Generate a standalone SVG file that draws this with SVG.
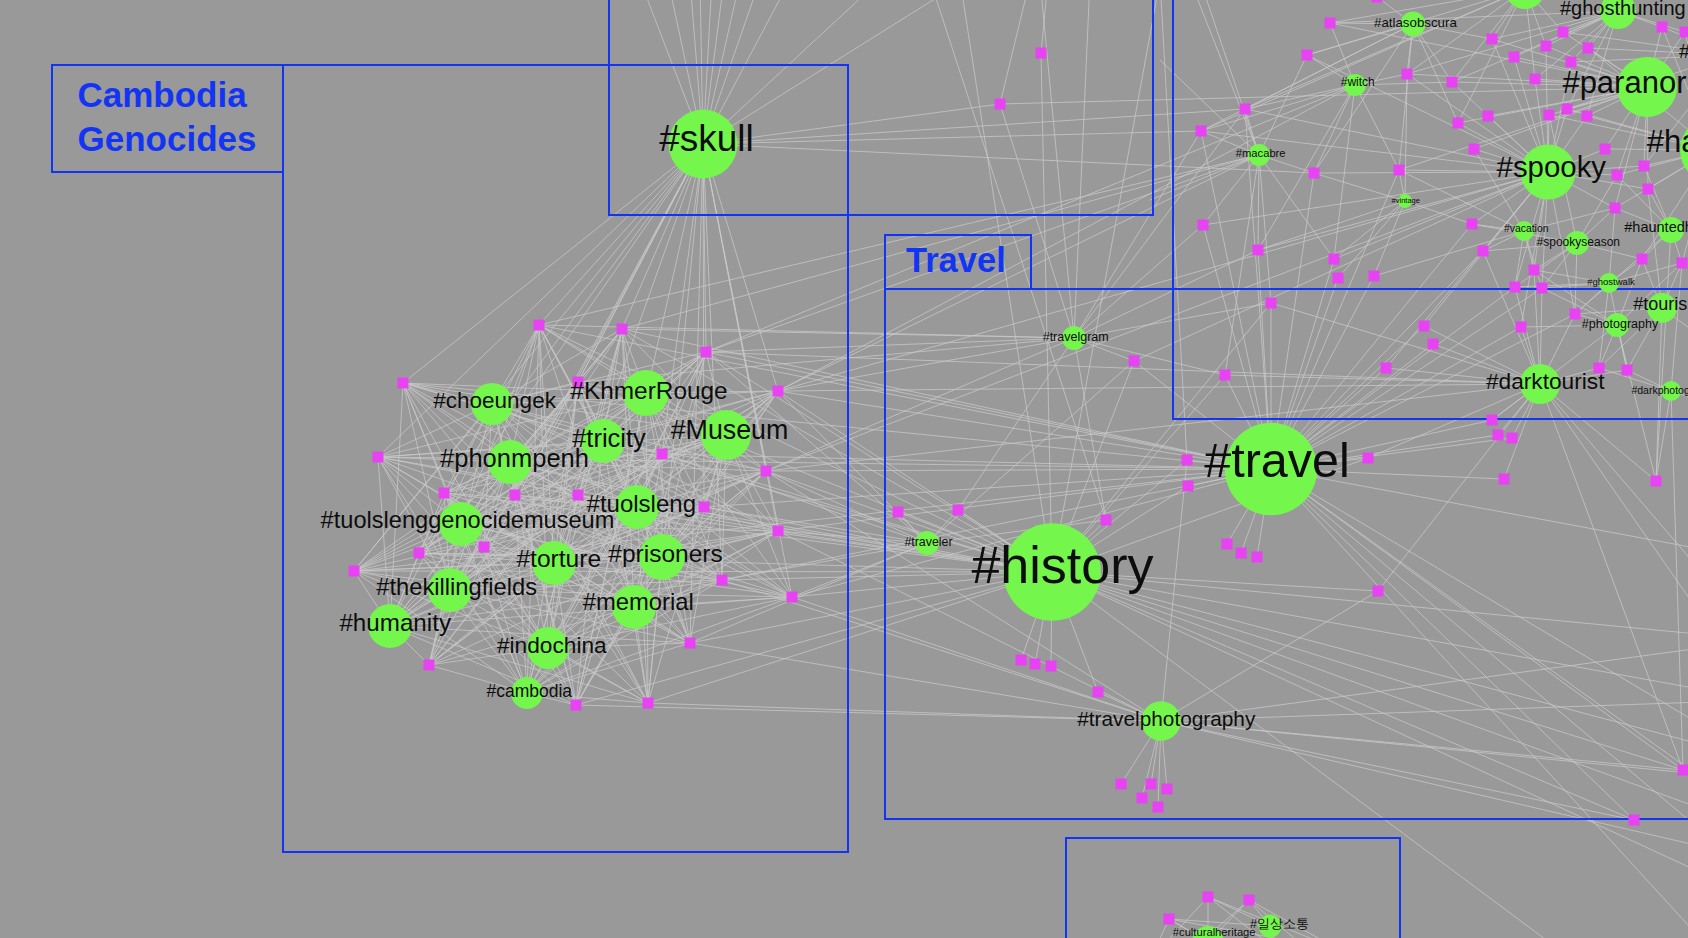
<svg xmlns="http://www.w3.org/2000/svg" xmlns:xlink="http://www.w3.org/1999/xlink" width="1688" height="938" viewBox="0 0 1688 938">
<style>
.e{fill:none;stroke:#cacaca;stroke-width:1;stroke-opacity:.75}
.b{fill:none;stroke:#1235f5;stroke-width:2}
.n{fill:#74f64c}
.l{font-family:"Liberation Sans",Arial,Helvetica,sans-serif;fill:#0d0d0d;text-anchor:middle}
.s{text-anchor:start}
.h{font-family:"Liberation Sans",Arial,sans-serif;font-weight:bold;fill:#1235f5}
</style>
<defs>
<symbol id="sq" overflow="visible"><rect x="-5.5" y="-5.5" width="11" height="11" fill="#e843f2"/></symbol>
</defs>
<rect width="1688" height="938" fill="#999"/>
<g id="connectors" class="e">
<path d="M492 404L539 325M492 404L622 329M492 404L706 352M492 404L403 383M492 404L578 382M492 404L778 391M492 404L378 457M492 404L662 454M492 404L766 471M492 404L444 493M492 404L515 495M492 404L578 495M492 404L704 507M492 404L778 531M492 404L484 547M492 404L419 553M492 404L354 571M492 404L722 580M492 404L792 597M492 404L690 643M492 404L429 665M492 404L576 705M492 404L648 703"/>
<path d="M646 393L539 325M646 393L622 329M646 393L706 352M646 393L403 383M646 393L578 382M646 393L778 391M646 393L378 457M646 393L662 454M646 393L766 471M646 393L444 493M646 393L515 495M646 393L578 495M646 393L704 507M646 393L778 531M646 393L484 547M646 393L419 553M646 393L354 571M646 393L722 580M646 393L792 597M646 393L690 643M646 393L429 665M646 393L576 705M646 393L648 703"/>
<path d="M603 441L539 325M603 441L622 329M603 441L706 352M603 441L403 383M603 441L578 382M603 441L778 391M603 441L378 457M603 441L662 454M603 441L766 471M603 441L444 493M603 441L515 495M603 441L578 495M603 441L704 507M603 441L778 531M603 441L484 547M603 441L419 553M603 441L354 571M603 441L722 580M603 441L792 597M603 441L690 643M603 441L429 665M603 441L576 705M603 441L648 703"/>
<path d="M726 435L539 325M726 435L622 329M726 435L706 352M726 435L403 383M726 435L578 382M726 435L778 391M726 435L378 457M726 435L662 454M726 435L766 471M726 435L444 493M726 435L515 495M726 435L578 495M726 435L704 507M726 435L778 531M726 435L484 547M726 435L419 553M726 435L354 571M726 435L722 580M726 435L792 597M726 435L690 643M726 435L429 665M726 435L576 705M726 435L648 703"/>
<path d="M510 462L539 325M510 462L622 329M510 462L706 352M510 462L403 383M510 462L578 382M510 462L778 391M510 462L378 457M510 462L662 454M510 462L766 471M510 462L444 493M510 462L515 495M510 462L578 495M510 462L704 507M510 462L778 531M510 462L484 547M510 462L419 553M510 462L354 571M510 462L722 580M510 462L792 597M510 462L690 643M510 462L429 665M510 462L576 705M510 462L648 703"/>
<path d="M637 507L539 325M637 507L622 329M637 507L706 352M637 507L403 383M637 507L578 382M637 507L778 391M637 507L378 457M637 507L662 454M637 507L766 471M637 507L444 493M637 507L515 495M637 507L578 495M637 507L704 507M637 507L778 531M637 507L484 547M637 507L419 553M637 507L354 571M637 507L722 580M637 507L792 597M637 507L690 643M637 507L429 665M637 507L576 705M637 507L648 703"/>
<path d="M461 524L539 325M461 524L622 329M461 524L706 352M461 524L403 383M461 524L578 382M461 524L778 391M461 524L378 457M461 524L662 454M461 524L766 471M461 524L444 493M461 524L515 495M461 524L578 495M461 524L704 507M461 524L778 531M461 524L484 547M461 524L419 553M461 524L354 571M461 524L722 580M461 524L792 597M461 524L690 643M461 524L429 665M461 524L576 705M461 524L648 703"/>
<path d="M554 563L539 325M554 563L622 329M554 563L706 352M554 563L403 383M554 563L578 382M554 563L778 391M554 563L378 457M554 563L662 454M554 563L766 471M554 563L444 493M554 563L515 495M554 563L578 495M554 563L704 507M554 563L778 531M554 563L484 547M554 563L419 553M554 563L354 571M554 563L722 580M554 563L792 597M554 563L690 643M554 563L429 665M554 563L576 705M554 563L648 703"/>
<path d="M662 557L539 325M662 557L622 329M662 557L706 352M662 557L403 383M662 557L578 382M662 557L778 391M662 557L378 457M662 557L662 454M662 557L766 471M662 557L444 493M662 557L515 495M662 557L578 495M662 557L704 507M662 557L778 531M662 557L484 547M662 557L419 553M662 557L354 571M662 557L722 580M662 557L792 597M662 557L690 643M662 557L429 665M662 557L576 705M662 557L648 703"/>
<path d="M450 590L539 325M450 590L622 329M450 590L706 352M450 590L403 383M450 590L578 382M450 590L778 391M450 590L378 457M450 590L662 454M450 590L766 471M450 590L444 493M450 590L515 495M450 590L578 495M450 590L704 507M450 590L778 531M450 590L484 547M450 590L419 553M450 590L354 571M450 590L722 580M450 590L792 597M450 590L690 643M450 590L429 665M450 590L576 705M450 590L648 703"/>
<path d="M634 607L539 325M634 607L622 329M634 607L706 352M634 607L403 383M634 607L578 382M634 607L778 391M634 607L378 457M634 607L662 454M634 607L766 471M634 607L444 493M634 607L515 495M634 607L578 495M634 607L704 507M634 607L778 531M634 607L484 547M634 607L419 553M634 607L354 571M634 607L722 580M634 607L792 597M634 607L690 643M634 607L429 665M634 607L576 705M634 607L648 703"/>
<path d="M390 626L539 325M390 626L622 329M390 626L706 352M390 626L403 383M390 626L578 382M390 626L778 391M390 626L378 457M390 626L662 454M390 626L766 471M390 626L444 493M390 626L515 495M390 626L578 495M390 626L704 507M390 626L778 531M390 626L484 547M390 626L419 553M390 626L354 571M390 626L722 580M390 626L792 597M390 626L690 643M390 626L429 665M390 626L576 705M390 626L648 703"/>
<path d="M548 648L539 325M548 648L622 329M548 648L706 352M548 648L403 383M548 648L578 382M548 648L778 391M548 648L378 457M548 648L662 454M548 648L766 471M548 648L444 493M548 648L515 495M548 648L578 495M548 648L704 507M548 648L778 531M548 648L484 547M548 648L419 553M548 648L354 571M548 648L722 580M548 648L792 597M548 648L690 643M548 648L429 665M548 648L576 705M548 648L648 703"/>
<path d="M527 693L539 325M527 693L622 329M527 693L706 352M527 693L403 383M527 693L578 382M527 693L778 391M527 693L378 457M527 693L662 454M527 693L766 471M527 693L444 493M527 693L515 495M527 693L578 495M527 693L704 507M527 693L778 531M527 693L484 547M527 693L419 553M527 693L354 571M527 693L722 580M527 693L792 597M527 693L690 643M527 693L429 665M527 693L576 705M527 693L648 703"/>
<path d="M703 144L539 325M703 144L622 329M703 144L706 352M703 144L403 383M703 144L578 382M703 144L778 391M703 144L378 457M703 144L662 454M703 144L766 471M703 144L444 493M703 144L515 495M703 144L578 495M703 144L704 507M703 144L778 531M703 144L484 547M703 144L419 553M703 144L354 571M703 144L722 580M703 144L792 597M703 144L690 643M703 144L429 665M703 144L576 705M703 144L648 703M703 144L640 -20M703 144L668 -20M703 144L690 -20M703 144L700 -20M703 144L712 -20M703 144L724 -20M703 144L740 -20M703 144L760 -20M703 144L790 -20M703 144L880 -20M703 144L965 -20M703 144L1000 104M703 144L1245 109M703 144L1201 131M703 144L1314 173"/>
<path d="M1052 572L1021 660M1052 572L1035 664M1052 572L1051 666M1052 572L1098 692M1052 572L898 512M1052 572L958 510M1052 572L1106 520M1052 572L1187 460M1052 572L1188 486M1052 572L1041 53M1052 572L1134 361M1052 572L1225 375M1052 572L1271 303M1052 572L1368 458M1052 572L1378 591M1052 572L1683 770M1052 572L1634 820M1052 572L1760 640M1052 572L1760 700M1052 572L1760 760M1052 572L1760 830M1052 572L1760 900M1052 572L1600 980M1052 572L539 325M1052 572L622 329M1052 572L706 352M1052 572L578 382M1052 572L778 391M1052 572L662 454M1052 572L766 471M1052 572L704 507M1052 572L778 531M1052 572L722 580M1052 572L792 597M1052 572L690 643M1052 572L648 703M1052 572L576 705M1052 572L419 553M1052 572L354 571M1052 572L378 457M1052 572L403 383M1052 572L444 493M1052 572L578 495M1052 572L515 495"/>
<path d="M1271 469L1187 460M1271 469L1188 486M1271 469L1227 544M1271 469L1241 553M1271 469L1257 557M1271 469L1368 458M1271 469L1225 375M1271 469L1271 303M1271 469L1134 361M1271 469L1386 368M1271 469L1424 326M1271 469L1433 344M1271 469L1492 420M1271 469L1498 435M1271 469L1512 438M1271 469L1504 479M1271 469L1203 225M1271 469L1258 250M1271 469L1334 259M1271 469L1338 278M1271 469L1374 276M1271 469L1314 173M1271 469L1399 170M1271 469L1201 131M1271 469L1245 109M1271 469L1472 224M1271 469L1483 251M1271 469L1515 287M1271 469L1542 288M1271 469L1521 327M1271 469L1575 314M1271 469L1683 770M1271 469L1634 820M1271 469L1760 760M1271 469L1760 820M1271 469L1760 880M1271 469L1720 960M1271 469L1760 560M1271 469L706 352M1271 469L778 391M1271 469L766 471M1271 469L778 531M1271 469L792 597M1271 469L622 329M1271 469L539 325M1271 469L704 507M1271 469L662 454M1271 469L403 383M1271 469L378 457M1271 469L354 571M1271 469L722 580"/>
<path d="M1161 721L1121 784M1161 721L1151 784M1161 721L1167 789M1161 721L1142 798M1161 721L1158 807M1161 721L1098 692M1161 721L1187 460M1161 721L1378 591M1161 721L1683 770M1161 721L1634 820M1161 721L1760 640M1161 721L1760 700M1161 721L1760 780M1161 721L1760 860M1161 721L792 597M1161 721L722 580M1161 721L690 643M1161 721L778 531M1161 721L648 703M1161 721L576 705M1161 721L766 471"/>
<path d="M1074 338L1134 361M1074 338L1106 520M1074 338L1271 303M1074 338L1201 131M1074 338L1245 109M1074 338L1203 225M1074 338L1258 250M1074 338L1000 104M1074 338L1090 -20M1074 338L1040 -20M1074 338L622 329M1074 338L706 352M1074 338L778 391M1074 338L766 471M1074 338L539 325M1074 338L578 382M1074 338L958 510M1074 338L1225 375"/>
<path d="M927 543L898 512M927 543L958 510M927 543L778 391M927 543L766 471M927 543L778 531M927 543L792 597M927 543L704 507M927 543L662 454M927 543L706 352M927 543L722 580M927 543L1134 361M927 543L1106 520M927 543L690 643"/>
<path d="M1540 384L1521 327M1540 384L1599 368M1540 384L1627 370M1540 384L1492 420M1540 384L1498 435M1540 384L1512 438M1540 384L1504 479M1540 384L1424 326M1540 384L1433 344M1540 384L1386 368M1540 384L1575 314M1540 384L1368 458M1540 384L1378 591M1540 384L1483 251M1540 384L1534 270M1540 384L1515 287M1540 384L1542 288M1540 384L1683 770M1540 384L1760 640M1540 384L1760 700M1540 384L706 352M1540 384L778 391M1540 384L766 471M1540 384L1656 481M1540 384L1271 303M1540 384L1225 375"/>
<path d="M1617 325L1575 314M1617 325L1521 327M1617 325L1599 368M1617 325L1627 370M1617 325L1542 288M1617 325L1642 259M1617 325L1656 481M1617 325L1492 420M1617 325L1534 270M1617 325L1682 263"/>
<path d="M1662 308L1682 263M1662 308L1642 259M1662 308L1575 314M1662 308L1599 368M1662 308L1627 370M1662 308L1656 481M1662 308L1648 189M1662 308L1760 380"/>
<path d="M1671 391L1627 370M1671 391L1599 368M1671 391L1656 481M1671 391L1682 263M1671 391L1760 420M1671 391L1683 770"/>
<path d="M1609 283L1534 270M1609 283L1515 287M1609 283L1542 288M1609 283L1642 259M1609 283L1575 314M1609 283L1599 368M1609 283L1627 370M1609 283L1615 208M1609 283L1682 263"/>
<path d="M1671 230L1648 189M1671 230L1615 208M1671 230L1644 166M1671 230L1642 259M1671 230L1682 263M1671 230L1656 481M1671 230L1575 314M1671 230L1617 175"/>
<path d="M1577 243L1483 251M1577 243L1534 270M1577 243L1515 287M1577 243L1542 288M1577 243L1615 208M1577 243L1575 314M1577 243L1642 259M1577 243L1617 175M1577 243L1472 224M1577 243L1549 115"/>
<path d="M1524 231L1472 224M1524 231L1483 251M1524 231L1534 270M1524 231L1515 287M1524 231L1542 288M1524 231L1615 208M1524 231L1399 170M1524 231L1374 276M1524 231L1474 149"/>
<path d="M1405 201L1399 170M1405 201L1314 173M1405 201L1334 259M1405 201L1338 278M1405 201L1374 276M1405 201L1472 224M1405 201L1407 74M1405 201L1258 250"/>
<path d="M1259 155L1245 109M1259 155L1201 131M1259 155L1314 173M1259 155L1203 225M1259 155L1258 250M1259 155L1271 303M1259 155L1225 375M1259 155L1307 55M1259 155L1334 259M1259 155L1160 60M1259 155L1150 200M1259 155L1190 -20M1259 155L539 325M1259 155L622 329M1259 155L706 352M1259 155L778 391"/>
<path d="M1355 85L1330 23M1355 85L1307 55M1355 85L1407 74M1355 85L1245 109M1355 85L1201 131M1355 85L1314 173M1355 85L1399 170M1355 85L1258 250M1355 85L1334 259M1355 85L1452 82M1355 85L706 352M1355 85L778 391"/>
<path d="M1413 24L1330 23M1413 24L1377 -3M1413 24L1307 55M1413 24L1407 74M1413 24L1452 82M1413 24L1492 39M1413 24L1245 109M1413 24L1201 131M1413 24L1314 173M1413 24L1399 170M1413 24L1458 123"/>
<path d="M1548 172L1307 55M1548 172L1407 74M1548 172L1452 82M1548 172L1492 39M1548 172L1514 57M1548 172L1546 46M1548 172L1571 62M1548 172L1535 79M1548 172L1458 123M1548 172L1488 116M1548 172L1549 115M1548 172L1567 109M1548 172L1587 116M1548 172L1474 149M1548 172L1605 149M1548 172L1617 175M1548 172L1615 208M1548 172L1399 170M1548 172L1472 224M1548 172L1483 251M1548 172L1534 270M1548 172L1515 287M1548 172L1542 288M1548 172L1575 314M1548 172L1521 327M1548 172L1245 109M1548 172L1201 131M1548 172L1314 173M1548 172L1203 225M1548 172L1258 250M1548 172L1334 259M1548 172L1134 361M1548 172L1424 326M1548 172L1386 368M1548 172L1644 166M1548 172L1648 189M1548 172L778 391M1548 172L766 471"/>
<path d="M1647 87L1492 39M1647 87L1514 57M1647 87L1546 46M1647 87L1563 32M1647 87L1588 48M1647 87L1571 62M1647 87L1535 79M1647 87L1662 27M1647 87L1685 32M1647 87L1458 123M1647 87L1488 116M1647 87L1549 115M1647 87L1567 109M1647 87L1587 116M1647 87L1474 149M1647 87L1605 149M1647 87L1644 166M1647 87L1617 175M1647 87L1648 189M1647 87L1615 208M1647 87L1452 82M1647 87L1407 74M1647 87L1399 170M1647 87L1330 23M1647 87L1000 104"/>
<path d="M1618 11L1492 39M1618 11L1514 57M1618 11L1546 46M1618 11L1563 32M1618 11L1588 48M1618 11L1571 62M1618 11L1535 79M1618 11L1662 27M1618 11L1685 32M1618 11L1567 109M1618 11L1587 116M1618 11L1330 23M1618 11L1407 74M1618 11L1452 82M1618 11L1600 -20M1618 11L1660 -20"/>
<path d="M1525 -11L1330 23M1525 -11L1307 55M1525 -11L1407 74M1525 -11L1452 82M1525 -11L1492 39M1525 -11L1546 46M1525 -11L1563 32M1525 -11L1535 79M1525 -11L1245 109M1525 -11L1201 131M1525 -11L1377 -3M1525 -11L1458 123"/>
<path d="M1713 150L1662 27M1713 150L1685 32M1713 150L1587 116M1713 150L1605 149M1713 150L1644 166M1713 150L1617 175M1713 150L1648 189M1713 150L1615 208M1713 150L1642 259M1713 150L1682 263M1713 150L1588 48M1713 150L1567 109M1713 150L1549 115"/>
<path d="M1730 55L1662 27M1730 55L1685 32M1730 55L1563 32M1730 55L1588 48M1730 55L1567 109M1730 55L1571 62M1730 55L1644 166"/>
<path d="M930 -20L1106 520M1160 -20L1187 460M1200 -20L1259 155M960 -20L1052 572M1160 -20L1052 572M1041 53L1048 -20M1000 104L1030 -20"/>
<path d="M1208 897L1270 926M1208 897L1208 942M1208 897L1340 950M1208 897L1150 960M1208 897L1290 960M1249 900L1270 926M1249 900L1208 942M1249 900L1340 950M1249 900L1180 960M1249 900L1320 960M1169 919L1270 926M1169 919L1208 942M1169 919L1340 950M1169 919L1150 960M1169 919L1240 960"/>
</g>
<g id="frames">
<rect class="b" x="52" y="65" width="231" height="107"/>
<rect class="b" x="283" y="65" width="565" height="787"/>
<rect class="b" x="609" y="-10" width="544" height="225"/>
<rect class="b" x="1173" y="-10" width="600" height="429"/>
<rect class="b" x="885" y="235" width="146" height="54"/>
<rect class="b" x="885" y="289" width="900" height="530"/>
<rect class="b" x="1066" y="838" width="334" height="200"/>
<text class="h" x="77.5" y="107" font-size="35">Cambodia</text>
<text class="h" x="77.5" y="150.7" font-size="35">Genocides</text>
<text class="h" x="906" y="271.7" font-size="34.5">Travel</text>
</g>
<g id="posts">
<g id="post-c1"><use xlink:href="#sq" x="539" y="325"/></g>
<g id="post-c2"><use xlink:href="#sq" x="622" y="329"/></g>
<g id="post-c3"><use xlink:href="#sq" x="706" y="352"/></g>
<g id="post-c4"><use xlink:href="#sq" x="403" y="383"/></g>
<g id="post-c5"><use xlink:href="#sq" x="578" y="382"/></g>
<g id="post-c6"><use xlink:href="#sq" x="778" y="391"/></g>
<g id="post-c7"><use xlink:href="#sq" x="378" y="457"/></g>
<g id="post-c8"><use xlink:href="#sq" x="662" y="454"/></g>
<g id="post-c9"><use xlink:href="#sq" x="766" y="471"/></g>
<g id="post-c10"><use xlink:href="#sq" x="444" y="493"/></g>
<g id="post-c11"><use xlink:href="#sq" x="515" y="495"/></g>
<g id="post-c12"><use xlink:href="#sq" x="578" y="495"/></g>
<g id="post-c13"><use xlink:href="#sq" x="704" y="507"/></g>
<g id="post-c14"><use xlink:href="#sq" x="778" y="531"/></g>
<g id="post-c15"><use xlink:href="#sq" x="484" y="547"/></g>
<g id="post-c16"><use xlink:href="#sq" x="419" y="553"/></g>
<g id="post-c17"><use xlink:href="#sq" x="354" y="571"/></g>
<g id="post-c18"><use xlink:href="#sq" x="722" y="580"/></g>
<g id="post-c19"><use xlink:href="#sq" x="792" y="597"/></g>
<g id="post-c20"><use xlink:href="#sq" x="690" y="643"/></g>
<g id="post-c21"><use xlink:href="#sq" x="429" y="665"/></g>
<g id="post-c22"><use xlink:href="#sq" x="576" y="705"/></g>
<g id="post-c23"><use xlink:href="#sq" x="648" y="703"/></g>
<g id="post-k1"><use xlink:href="#sq" x="1041" y="53"/></g>
<g id="post-k2"><use xlink:href="#sq" x="1000" y="104"/></g>
<g id="post-t1"><use xlink:href="#sq" x="1187" y="460"/></g>
<g id="post-t2"><use xlink:href="#sq" x="1188" y="486"/></g>
<g id="post-t3"><use xlink:href="#sq" x="898" y="512"/></g>
<g id="post-t4"><use xlink:href="#sq" x="958" y="510"/></g>
<g id="post-t5"><use xlink:href="#sq" x="1106" y="520"/></g>
<g id="post-t6"><use xlink:href="#sq" x="1227" y="544"/></g>
<g id="post-t7"><use xlink:href="#sq" x="1241" y="553"/></g>
<g id="post-t8"><use xlink:href="#sq" x="1257" y="557"/></g>
<g id="post-t9"><use xlink:href="#sq" x="1021" y="660"/></g>
<g id="post-t10"><use xlink:href="#sq" x="1035" y="664"/></g>
<g id="post-t11"><use xlink:href="#sq" x="1051" y="666"/></g>
<g id="post-t12"><use xlink:href="#sq" x="1098" y="692"/></g>
<g id="post-t13"><use xlink:href="#sq" x="1121" y="784"/></g>
<g id="post-t14"><use xlink:href="#sq" x="1151" y="784"/></g>
<g id="post-t15"><use xlink:href="#sq" x="1167" y="789"/></g>
<g id="post-t16"><use xlink:href="#sq" x="1142" y="798"/></g>
<g id="post-t17"><use xlink:href="#sq" x="1158" y="807"/></g>
<g id="post-t18"><use xlink:href="#sq" x="1368" y="458"/></g>
<g id="post-t19"><use xlink:href="#sq" x="1378" y="591"/></g>
<g id="post-t20"><use xlink:href="#sq" x="1683" y="770"/></g>
<g id="post-t21"><use xlink:href="#sq" x="1634" y="820"/></g>
<g id="post-t22"><use xlink:href="#sq" x="1504" y="479"/></g>
<g id="post-t23"><use xlink:href="#sq" x="1656" y="481"/></g>
<g id="post-t24"><use xlink:href="#sq" x="1492" y="420"/></g>
<g id="post-t25"><use xlink:href="#sq" x="1498" y="435"/></g>
<g id="post-t26"><use xlink:href="#sq" x="1512" y="438"/></g>
<g id="post-s1"><use xlink:href="#sq" x="1330" y="23"/></g>
<g id="post-s2"><use xlink:href="#sq" x="1377" y="-3"/></g>
<g id="post-s3"><use xlink:href="#sq" x="1307" y="55"/></g>
<g id="post-s4"><use xlink:href="#sq" x="1407" y="74"/></g>
<g id="post-s5"><use xlink:href="#sq" x="1452" y="82"/></g>
<g id="post-s6"><use xlink:href="#sq" x="1492" y="39"/></g>
<g id="post-s7"><use xlink:href="#sq" x="1514" y="57"/></g>
<g id="post-s8"><use xlink:href="#sq" x="1546" y="46"/></g>
<g id="post-s9"><use xlink:href="#sq" x="1563" y="32"/></g>
<g id="post-s10"><use xlink:href="#sq" x="1588" y="48"/></g>
<g id="post-s11"><use xlink:href="#sq" x="1571" y="62"/></g>
<g id="post-s12"><use xlink:href="#sq" x="1535" y="79"/></g>
<g id="post-s13"><use xlink:href="#sq" x="1662" y="27"/></g>
<g id="post-s14"><use xlink:href="#sq" x="1685" y="32"/></g>
<g id="post-s15"><use xlink:href="#sq" x="1245" y="109"/></g>
<g id="post-s16"><use xlink:href="#sq" x="1201" y="131"/></g>
<g id="post-s17"><use xlink:href="#sq" x="1458" y="123"/></g>
<g id="post-s18"><use xlink:href="#sq" x="1488" y="116"/></g>
<g id="post-s19"><use xlink:href="#sq" x="1549" y="115"/></g>
<g id="post-s20"><use xlink:href="#sq" x="1567" y="109"/></g>
<g id="post-s21"><use xlink:href="#sq" x="1587" y="116"/></g>
<g id="post-s22"><use xlink:href="#sq" x="1474" y="149"/></g>
<g id="post-s23"><use xlink:href="#sq" x="1605" y="149"/></g>
<g id="post-s24"><use xlink:href="#sq" x="1644" y="166"/></g>
<g id="post-s25"><use xlink:href="#sq" x="1617" y="175"/></g>
<g id="post-s26"><use xlink:href="#sq" x="1648" y="189"/></g>
<g id="post-s27"><use xlink:href="#sq" x="1615" y="208"/></g>
<g id="post-s28"><use xlink:href="#sq" x="1314" y="173"/></g>
<g id="post-s29"><use xlink:href="#sq" x="1399" y="170"/></g>
<g id="post-s30"><use xlink:href="#sq" x="1203" y="225"/></g>
<g id="post-s31"><use xlink:href="#sq" x="1258" y="250"/></g>
<g id="post-s32"><use xlink:href="#sq" x="1334" y="259"/></g>
<g id="post-s33"><use xlink:href="#sq" x="1338" y="278"/></g>
<g id="post-s34"><use xlink:href="#sq" x="1374" y="276"/></g>
<g id="post-s35"><use xlink:href="#sq" x="1472" y="224"/></g>
<g id="post-s36"><use xlink:href="#sq" x="1483" y="251"/></g>
<g id="post-s37"><use xlink:href="#sq" x="1534" y="270"/></g>
<g id="post-s38"><use xlink:href="#sq" x="1515" y="287"/></g>
<g id="post-s39"><use xlink:href="#sq" x="1542" y="288"/></g>
<g id="post-s40"><use xlink:href="#sq" x="1642" y="259"/></g>
<g id="post-s41"><use xlink:href="#sq" x="1682" y="263"/></g>
<g id="post-s42"><use xlink:href="#sq" x="1271" y="303"/></g>
<g id="post-s43"><use xlink:href="#sq" x="1575" y="314"/></g>
<g id="post-s44"><use xlink:href="#sq" x="1521" y="327"/></g>
<g id="post-s45"><use xlink:href="#sq" x="1599" y="368"/></g>
<g id="post-s46"><use xlink:href="#sq" x="1627" y="370"/></g>
<g id="post-s52"><use xlink:href="#sq" x="1386" y="368"/></g>
<g id="post-s53"><use xlink:href="#sq" x="1424" y="326"/></g>
<g id="post-s54"><use xlink:href="#sq" x="1433" y="344"/></g>
<g id="post-s55"><use xlink:href="#sq" x="1225" y="375"/></g>
<g id="post-s56"><use xlink:href="#sq" x="1134" y="361"/></g>
<g id="post-b1"><use xlink:href="#sq" x="1208" y="897"/></g>
<g id="post-b2"><use xlink:href="#sq" x="1249" y="900"/></g>
<g id="post-b3"><use xlink:href="#sq" x="1169" y="919"/></g>
</g>
<g id="hashtags">
<g id="n-choeungek"><circle class="n" cx="492" cy="404" r="21"/><text class="l" x="494.6" y="408.3" font-size="22.5">#choeungek</text></g>
<g id="n-khmerrouge"><circle class="n" cx="646" cy="393" r="23"/><text class="l" x="649" y="399" font-size="24.4">#KhmerRouge</text></g>
<g id="n-tricity"><circle class="n" cx="603" cy="441" r="22"/><text class="l" x="609" y="446.7" font-size="25.5">#tricity</text></g>
<g id="n-museum"><circle class="n" cx="726" cy="435" r="25"/><text class="l" x="729.5" y="439" font-size="26.8">#Museum</text></g>
<g id="n-phonmpenh"><circle class="n" cx="510" cy="462" r="22"/><text class="l" x="514.5" y="466.7" font-size="25.5">#phonmpenh</text></g>
<g id="n-tuolsleng"><circle class="n" cx="637" cy="507" r="22"/><text class="l" x="641.3" y="512.3" font-size="24">#tuolsleng</text></g>
<g id="n-tuolslenggenocidemuseum"><circle class="n" cx="461" cy="524" r="22"/><text class="l" x="467.5" y="528.3" font-size="23.6">#tuolslenggenocidemuseum</text></g>
<g id="n-torture"><circle class="n" cx="554" cy="563" r="22"/><text class="l" x="558.8" y="566.7" font-size="24.6">#torture</text></g>
<g id="n-prisoners"><circle class="n" cx="662" cy="557" r="23"/><text class="l" x="665.5" y="561.7" font-size="24.5">#prisoners</text></g>
<g id="n-thekillingfields"><circle class="n" cx="450" cy="590" r="22"/><text class="l" x="456.7" y="595" font-size="23.7">#thekillingfields</text></g>
<g id="n-memorial"><circle class="n" cx="634" cy="607" r="22"/><text class="l" x="638.3" y="610" font-size="23.8">#memorial</text></g>
<g id="n-humanity"><circle class="n" cx="390" cy="626" r="22"/><text class="l" x="395.2" y="631" font-size="24.2">#humanity</text></g>
<g id="n-indochina"><circle class="n" cx="548" cy="648" r="21"/><text class="l" x="551.8" y="652.7" font-size="22.7">#indochina</text></g>
<g id="n-cambodia"><circle class="n" cx="527" cy="693" r="16"/><text class="l" x="529.3" y="696.7" font-size="17.5">#cambodia</text></g>
<g id="n-skull"><circle class="n" cx="703" cy="144" r="34.5"/><text class="l" x="706.5" y="150.7" font-size="37">#skull</text></g>
<g id="n-travelgram"><circle class="n" cx="1074" cy="338" r="12"/><text class="l" x="1075.7" y="340.7" font-size="12.5">#travelgram</text></g>
<g id="n-traveler"><circle class="n" cx="927" cy="543" r="12"/><text class="l" x="928.5" y="545.7" font-size="12.4">#traveler</text></g>
<g id="n-history"><circle class="n" cx="1052" cy="572" r="48.8"/><text class="l" x="1062.5" y="583.3" font-size="52">#history</text></g>
<g id="n-travel"><circle class="n" cx="1271" cy="469" r="46.2"/><text class="l" x="1277" y="476.7" font-size="48.5">#travel</text></g>
<g id="n-travelphotography"><circle class="n" cx="1161" cy="721" r="19.8"/><text class="l" x="1166.3" y="726" font-size="20.8">#travelphotography</text></g>
<g id="n-top"><circle class="n" cx="1525" cy="-11" r="20"/></g>
<g id="n-atlasobscura"><circle class="n" cx="1413" cy="24" r="12.5"/><text class="l" x="1415.4" y="26.7" font-size="13.3">#atlasobscura</text></g>
<g id="n-witch"><circle class="n" cx="1355" cy="85" r="11"/><text class="l" x="1357.8" y="86" font-size="12">#witch</text></g>
<g id="n-macabre"><circle class="n" cx="1259" cy="155" r="11"/><text class="l" x="1260.7" y="156.7" font-size="11.2">#macabre</text></g>
<g id="n-vintage"><circle class="n" cx="1405" cy="201" r="7"/><text class="l" x="1405.8" y="202.7" font-size="7.5">#vintage</text></g>
<g id="n-ghosthunting"><circle class="n" cx="1618" cy="11" r="18"/><text class="l s" x="1560" y="15" font-size="20">#ghosthunting</text></g>
<g id="n-paranormal"><circle class="n" cx="1647" cy="87" r="30"/><text class="l s" x="1562.4" y="93.3" font-size="31">#paranormal</text></g>
<g id="n-hash"><text class="l s" x="1679" y="58" font-size="20">#</text></g>
<g id="n-haunted"><circle class="n" cx="1713" cy="150" r="33"/><text class="l s" x="1646.7" y="151.7" font-size="31">#haunted</text></g>
<g id="n-spooky"><circle class="n" cx="1548" cy="172" r="27.5"/><text class="l" x="1551.3" y="176.7" font-size="29.4">#spooky</text></g>
<g id="n-vacation"><circle class="n" cx="1524" cy="231" r="10"/><text class="l" x="1526.2" y="232.3" font-size="10.4">#vacation</text></g>
<g id="n-spookyseason"><circle class="n" cx="1577" cy="243" r="12"/><text class="l" x="1578.3" y="246" font-size="12">#spookyseason</text></g>
<g id="n-hauntedhouse"><circle class="n" cx="1671" cy="230" r="13"/><text class="l s" x="1624.3" y="232.3" font-size="14.5">#hauntedhouse</text></g>
<g id="n-ghostwalk"><circle class="n" cx="1609" cy="283" r="10"/><text class="l" x="1611" y="285" font-size="9.5">#ghostwalk</text></g>
<g id="n-tourism"><circle class="n" cx="1662" cy="308" r="15"/><text class="l s" x="1633.3" y="310" font-size="18">#tourism</text></g>
<g id="n-photography"><circle class="n" cx="1617" cy="325" r="12"/><text class="l" x="1620" y="328.3" font-size="12.5">#photography</text></g>
<g id="n-darktourist"><circle class="n" cx="1540" cy="384" r="20"/><text class="l" x="1545.2" y="389" font-size="22.7">#darktourist</text></g>
<g id="n-darkphotography"><circle class="n" cx="1671" cy="391" r="10"/><text class="l s" x="1631.4" y="394" font-size="10.5">#darkphotography</text></g>
<g id="n-ilsang"><circle class="n" cx="1270" cy="926" r="11.5"/><text class="l s" x="1250" y="928.3" font-size="12.5" font-family="'Liberation Sans','Noto Sans CJK KR',sans-serif">#일상소통</text></g>
<g id="n-culturalheritage"><circle class="n" cx="1208" cy="942" r="16"/><text class="l" x="1214.2" y="936" font-size="11.2">#culturalheritage</text></g>
<g id="n-bottom"><circle class="n" cx="1340" cy="950" r="12"/></g>
</g>
</svg>
